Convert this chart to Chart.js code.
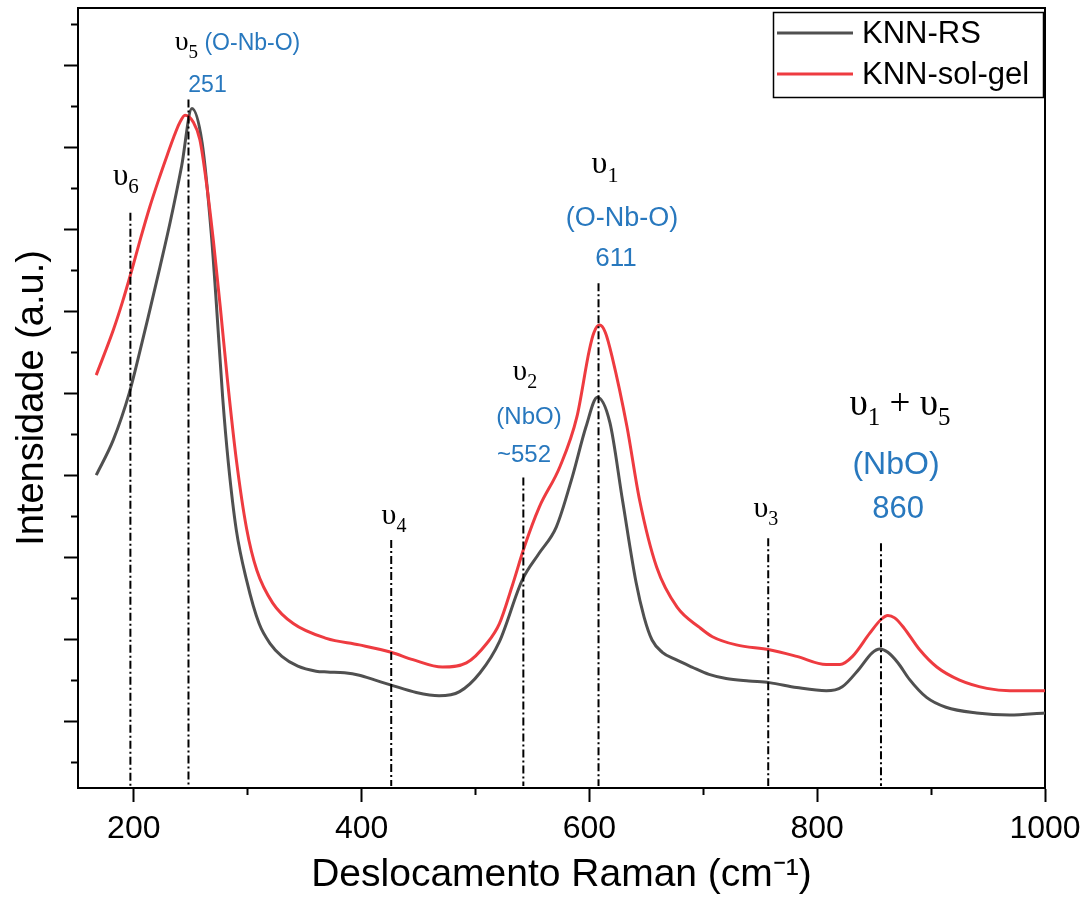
<!DOCTYPE html>
<html><head><meta charset="utf-8">
<script src="https://cdn.jsdelivr.net/npm/chart.js@4.4.0/dist/chart.umd.min.js"></script>
<style>html,body{margin:0;padding:0;background:#fff;overflow:hidden}canvas{display:block}</style>
</head><body>
<canvas id="c" width="1091" height="902" style="width:1091px;height:902px"></canvas>
<script>
// ---- data ----
const rsShift = [167, 182, 196, 205, 214, 223, 232, 242, 251, 260, 268, 272, 278, 283, 290, 299, 310, 320, 330, 344, 360, 370, 385, 398, 412, 426, 448, 468, 486, 504, 521, 541, 556, 571, 585, 597, 607, 618, 629, 641, 648, 655, 664, 676, 690, 705, 720, 740, 758, 782, 808, 822, 837, 848, 855, 862, 871, 881, 896, 913, 940, 969, 1000];
const rsIntensity = [3.01, 3.44, 4.01, 4.5, 5.02, 5.55, 6.1, 6.78, 7.48, 7.06, 5.96, 5.2, 3.96, 3.16, 2.34, 1.73, 1.2, 0.95, 0.8, 0.68, 0.62, 0.61, 0.6, 0.57, 0.51, 0.45, 0.36, 0.32, 0.37, 0.6, 0.98, 1.73, 2.06, 2.38, 2.99, 3.6, 3.96, 3.65, 2.71, 1.7, 1.28, 1.0, 0.85, 0.76, 0.67, 0.58, 0.53, 0.5, 0.48, 0.42, 0.38, 0.43, 0.65, 0.84, 0.89, 0.85, 0.72, 0.52, 0.3, 0.18, 0.11, 0.085, 0.11];
const solgelShift = [167, 182, 190, 198, 206, 214, 222, 229, 235, 240, 245, 252, 258, 264, 270, 276, 282, 290, 299, 308, 322, 340, 369, 398, 426, 445, 471, 492, 510, 521, 532, 543, 556, 574, 589, 600, 604, 609, 614, 620, 633, 644, 659, 677, 697, 708, 729, 758, 782, 808, 820, 831, 846, 856, 862, 868, 876, 890, 905, 925, 949, 969, 1000];
const solgelIntensity = [4.23, 4.78, 5.12, 5.5, 5.9, 6.28, 6.62, 6.9, 7.13, 7.3, 7.40, 7.32, 7.10, 6.55, 5.85, 5.05, 4.2, 3.2, 2.36, 1.85, 1.45, 1.2, 1.02, 0.94, 0.85, 0.76, 0.67, 0.72, 0.96, 1.2, 1.65, 2.14, 2.62, 3.11, 3.72, 4.54, 4.75, 4.84, 4.75, 4.45, 3.6, 2.71, 1.89, 1.4, 1.15, 1.04, 0.94, 0.88, 0.8, 0.7, 0.7, 0.8, 1.08, 1.25, 1.3, 1.27, 1.15, 0.88, 0.67, 0.51, 0.41, 0.38, 0.38];
const markerShift = [197, 248, 426, 542, 608, 757, 856];
const markerTop = [6.21, 7.59, 2.22, 2.98, 5.35, 2.24, 2.18];
const markerBottom = -0.78;
const xMajorTicks = [200, 400, 600, 800, 1000];
const xMinorTicks = [300, 500, 700, 900];
const yMajorTicks = [0, 1, 2, 3, 4, 5, 6, 7, 8];
const yMinorTicks = [-0.5, 0.5, 1.5, 2.5, 3.5, 4.5, 5.5, 6.5, 7.5, 8.5];
const seriesLabels = ['KNN-RS', 'KNN-sol-gel'];

// ---- styles ----
const GRAY = '#505050', RED = '#EE3B40', BLUE = '#2878BE';
const SANS = '"Liberation Sans", Arial, sans-serif';
const SERIF = '"Liberation Serif", "Times New Roman", serif';

function ups(sub, size) {
  return [
    {t: 'υ', font: `${size}px ${SERIF}`, color: '#000'},
    {t: sub, font: `${Math.round(size * 0.68)}px ${SERIF}`, color: '#000', dy: Math.round(size * 0.27)}
  ];
}
function blue(t, size) { return [{t, font: `${size}px ${SANS}`, color: BLUE}]; }

const annotations = [
  {x: 193, y: 6.55, runs: ups('6', 31)},
  {x: 291, y: 8.195, runs: [...ups('5', 28), {t: ' ', font: `23px ${SANS}`, color: BLUE}, ...blue('(O-Nb-O)', 23)]},
  {x: 264.7, y: 7.68, runs: blue('251', 23)},
  {x: 613.7, y: 6.695, runs: ups('1', 32)},
  {x: 628.6, y: 6.05, runs: blue('(O-Nb-O)', 27)},
  {x: 623.4, y: 5.56, runs: blue('611', 26)},
  {x: 543.5, y: 4.17, runs: ups('2', 29)},
  {x: 547, y: 3.63, runs: blue('(NbO)', 24)},
  {x: 542.6, y: 3.17, runs: blue('~552', 24)},
  {x: 428.4, y: 2.41, runs: ups('4', 30)},
  {x: 755, y: 2.50, runs: ups('3', 30)},
  {x: 872.7, y: 3.74, runs: [...ups('1', 37), {t: ' + ', font: `37px ${SERIF}`, color: '#000'}, ...ups('5', 37)]},
  {x: 869.2, y: 3.02, runs: blue('(NbO)', 32)},
  {x: 871, y: 2.49, runs: blue('860', 31)}
];

const annotPlugin = {
  id: 'annot',
  afterDatasetsDraw(chart) {
    const {ctx, scales: {x, y}} = chart;
    ctx.save();
    ctx.textBaseline = 'alphabetic';
    ctx.textAlign = 'left';
    for (const a of annotations) {
      const px = x.getPixelForValue(a.x), py = y.getPixelForValue(a.y);
      let w = 0;
      const ms = a.runs.map(r => { ctx.font = r.font; const m = ctx.measureText(r.t).width; w += m; return m; });
      let cx = px - w / 2;
      a.runs.forEach((r, i) => { ctx.font = r.font; ctx.fillStyle = r.color; ctx.fillText(r.t, cx, py + (r.dy || 0)); cx += ms[i]; });
    }
    ctx.restore();
  }
};

const legendPlugin = {
  id: 'boxLegend',
  afterDraw(chart) {
    const {ctx, chartArea} = chart;
    const bx = chartArea.right - 272, by = chartArea.top + 4, bw = 270, bh = 85;
    ctx.save();
    ctx.strokeStyle = '#000'; ctx.lineWidth = 1.5;
    ctx.strokeRect(bx + 0.5, by + 0.5, bw, bh);
    const items = [{label: seriesLabels[0], color: GRAY}, {label: seriesLabels[1], color: RED}];
    items.forEach((it, i) => {
      const ly = by + 21 + i * 41;
      ctx.strokeStyle = it.color; ctx.lineWidth = 3;
      ctx.beginPath(); ctx.moveTo(bx + 4, ly); ctx.lineTo(bx + 80, ly); ctx.stroke();
      ctx.fillStyle = '#000'; ctx.font = `31px ${SANS}`; ctx.textBaseline = 'alphabetic';
      ctx.fillText(it.label, bx + 89, ly + 10);
    });
    ctx.restore();
  }
};

const toXY = (xs, ys) => xs.map((v, i) => ({x: v, y: ys[i]}));
const markerSets = markerShift.map((v, i) => ({
  label: 'marker' + i,
  data: [{x: v, y: markerTop[i]}, {x: v, y: markerBottom}],
  borderColor: '#000', borderWidth: 2, borderDash: [8, 3, 2, 3],
  pointRadius: 0, fill: false, order: 0
}));

const X_MIN = 151, X_MAX = 1000, Y_MIN = -0.805, Y_MAX = 8.707;
const setTicks = arr => s => { s.ticks = arr.map(v => ({value: v})); };

new Chart(document.getElementById('c'), {
  type: 'line',
  data: {
    datasets: [
      ...markerSets,
      {label: seriesLabels[1], data: toXY(solgelShift, solgelIntensity), borderColor: RED, borderWidth: 3,
        pointRadius: 0, fill: false, cubicInterpolationMode: 'monotone', order: 1},
      {label: seriesLabels[0], data: toXY(rsShift, rsIntensity), borderColor: GRAY, borderWidth: 3,
        pointRadius: 0, fill: false, cubicInterpolationMode: 'monotone', order: 2}
    ]
  },
  options: {
    responsive: false, animation: false, devicePixelRatio: 1,
    layout: {padding: {top: 8, right: 46, left: 0, bottom: 0}},
    plugins: {legend: {display: false}, tooltip: {enabled: false}},
    scales: {
      x: {
        type: 'linear', position: 'bottom', min: X_MIN, max: X_MAX, weight: 1,
        afterBuildTicks: setTicks(xMajorTicks),
        afterFit: s => { s.height = 114; },
        ticks: {font: {family: SANS, size: 32, lineHeight: 1.2}, color: '#000', padding: 8, maxRotation: 0, autoSkip: false, callback: v => String(v)},
        grid: {drawOnChartArea: false, drawTicks: true, tickLength: 14, tickWidth: 2, tickColor: '#000'},
        border: {display: true, color: '#000', width: 2},
        title: {display: true, text: 'Deslocamento Raman (cm⁻¹)', color: '#000', font: {family: SANS, size: 39, lineHeight: 1.2}, padding: {top: 0, bottom: 3}}
      },
      x2: {
        type: 'linear', position: 'bottom', min: X_MIN, max: X_MAX, weight: 0,
        afterBuildTicks: setTicks(xMinorTicks),
        afterFit: s => { s.height = 0; },
        ticks: {display: false},
        grid: {drawOnChartArea: false, drawTicks: true, tickLength: 7, tickWidth: 2, tickColor: '#000'},
        border: {display: false}
      },
      xTop: {
        type: 'linear', position: 'top', min: X_MIN, max: X_MAX,
        afterFit: s => { s.height = 0; },
        ticks: {display: false}, grid: {display: false},
        border: {display: true, color: '#000', width: 2}
      },
      y: {
        type: 'linear', position: 'left', min: Y_MIN, max: Y_MAX, weight: 1,
        afterBuildTicks: setTicks(yMajorTicks),
        afterFit: s => { s.width = 78; },
        ticks: {display: false},
        grid: {drawOnChartArea: false, drawTicks: true, tickLength: 14, tickWidth: 2, tickColor: '#000'},
        border: {display: true, color: '#000', width: 2},
        title: {display: true, text: 'Intensidade (a.u.)', color: '#000', font: {family: SANS, size: 38, lineHeight: 1.2}, padding: {top: 10, bottom: 0}}
      },
      y2: {
        type: 'linear', position: 'left', min: Y_MIN, max: Y_MAX, weight: 0,
        afterBuildTicks: setTicks(yMinorTicks),
        afterFit: s => { s.width = 0; },
        ticks: {display: false},
        grid: {drawOnChartArea: false, drawTicks: true, tickLength: 7, tickWidth: 2, tickColor: '#000'},
        border: {display: false}
      },
      yRight: {
        type: 'linear', position: 'right', min: Y_MIN, max: Y_MAX,
        afterFit: s => { s.width = 0; },
        ticks: {display: false}, grid: {display: false},
        border: {display: true, color: '#000', width: 2}
      }
    }
  },
  plugins: [annotPlugin, legendPlugin]
});
</script>
</body></html>
